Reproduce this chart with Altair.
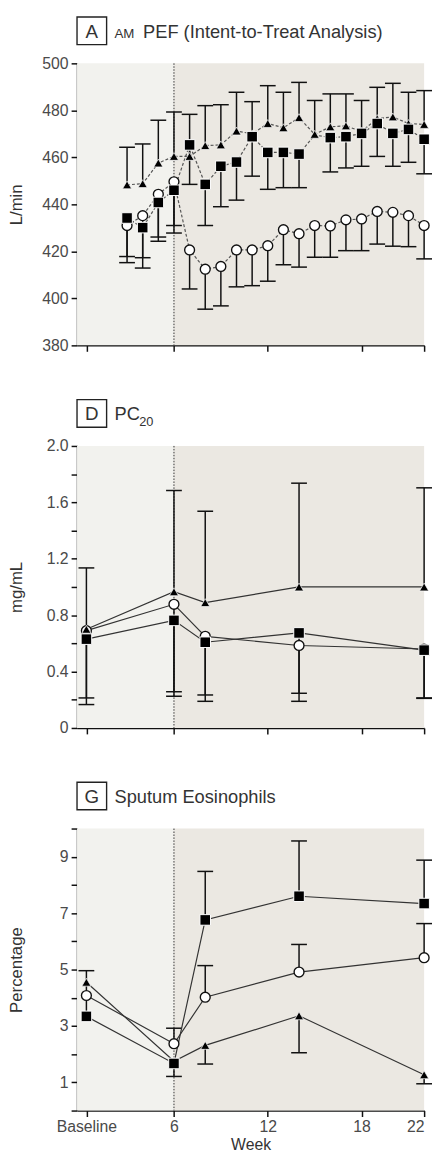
import altair as alt
import pandas as pd

FONT = "Liberation Sans"
BASELINE = 0.4
X_TICKS = [BASELINE, 6, 12, 18, 22]
X_DOMAIN = [-0.2, 22]
PHASE_START = [-0.2, 6]
PHASE_END = [6, 22]
PHASE_COLOR = ["#F2F2EE", "#EBE8E2"]

# ---- Panel A: AM PEF (L/min) ----
A_WEEKS = list(range(3, 23))
PEF_TRI = [448.3, 448.8, 457.6, 460.4, 460.4, 465.0, 465.3, 471.2, 470.0, 474.4,
           472.6, 476.9, 469.8, 473.0, 473.4, 471.0, 476.5, 477.2, 474.4, 474.0]
PEF_TRI_UP = [464.3, 465.7, 475.8, 479.3, 478.3, 482.0, 482.4, 487.7, 483.7, 490.5,
              487.7, 491.9, 484.2, 487.0, 487.0, 484.2, 489.8, 491.5, 487.7, 488.4]
PEF_SQ = [434.2, 430.1, 440.8, 446.0, 465.3, 448.5, 456.2, 458.0, 468.8, 462.1,
          462.1, 461.4, 469.5, 468.4, 468.8, 470.2, 474.4, 470.2, 471.9, 467.7]
PEF_SQ_LO = [415.2, 412.9, 424.3, 427.8, 448.5, 431.0, 439.0, 441.8, 452.0, 446.4,
             447.1, 447.1, None, 453.8, 455.5, 456.2, 460.4, 456.2, 457.9, 453.0]
PEF_CI = [431.0, 435.2, 444.3, 449.6, 420.6, 412.4, 413.6, 420.6, 420.6, 422.4,
          429.2, 427.5, 431.0, 430.8, 433.4, 433.8, 437.0, 436.6, 435.2, 431.0]
PEF_CI_LO = [417.8, 417.3, 426.1, 431.0, 404.0, 395.4, 396.8, 404.9, 405.4, 407.3,
             414.3, 413.3, 417.5, 417.5, 420.3, 420.3, 423.1, 422.2, 422.0, 416.8]
PEF_HIDDEN_SQ_WEEK = 15

# ---- Panel D: PC20 (mg/mL) ----
D_WEEKS = [BASELINE, 6, 8, 14, 22]
PC_TRI = [0.70, 0.966, 0.889, 1.0, 1.0]
PC_TRI_UP = [1.135, 1.684, 1.537, 1.736, 1.703]
PC_CI = [0.69, 0.877, 0.65, 0.585, 0.56]
PC_CI_LO = [0.213, 0.257, 0.234, 0.246, 0.213]
PC_SQ = [0.63, 0.763, 0.608, 0.674, 0.552]
PC_SQ_LO = [0.166, 0.225, 0.189, 0.189, 0.21]

# ---- Panel G: Sputum eosinophils (%) ----
G_WEEKS = [BASELINE, 6, 8, 14, 22]
EO_TRI = [4.55, 1.75, 2.31, 3.36, 1.27]
EO_TRI_LO = [None, 1.21, 1.65, 2.05, 0.95]
EO_CI = [4.08, 2.37, 4.02, 4.91, 5.42]
EO_CI_UP = [None, 2.92, 5.14, 5.89, 6.63]
EO_SQ = [3.34, 1.67, 6.76, 7.6, 7.34]
EO_SQ_UP = [4.96, None, 8.48, 9.56, 8.88]

W, H = 352, 286


def long(weeks, series):
    rows = []
    for name, (vals, errs) in series.items():
        for w, v, e in zip(weeks, vals, errs):
            rows.append({"week": w, "series": name, "value": v, "err": e})
    return pd.DataFrame(rows)


phase_df = pd.DataFrame({"start": PHASE_START, "end": PHASE_END, "color": PHASE_COLOR})
ONE = alt.Data(values=[{"k": 0}])


def panel(df, ydom, yvals, ylabel_expr, ytitle, show_x, dashed, title_layers, hide_sq=None):
    xaxis = alt.Axis(values=X_TICKS, labels=show_x,
                     labelExpr="datum.value < 1 ? 'Baseline' : datum.label",
                     labelPadding=2, titleFontSize=16,
                     title="Week" if show_x else None, titlePadding=2)
    xs = alt.Scale(domain=X_DOMAIN, nice=False, zero=False)
    ys = alt.Scale(domain=ydom, nice=False, zero=False)
    yaxis = alt.Axis(values=yvals, labelExpr=ylabel_expr, title=ytitle,
                     titleX=-61, titleY=H / 2, titleAngle=-90,
                     titleAlign="center", titleBaseline="middle")
    X = alt.X("week:Q", scale=xs, axis=xaxis)
    Y = alt.Y("value:Q", scale=ys, axis=yaxis)

    bg = alt.Chart(phase_df).mark_rect().encode(
        x=alt.X("start:Q", scale=xs, axis=xaxis), x2="end:Q",
        y=alt.value(0), y2=alt.value(H),
        color=alt.Color("color:N", scale=None, legend=None))
    vline = alt.Chart(ONE).mark_rule(color="#333", strokeWidth=1, strokeDash=[1.5, 1.5]).encode(
        x=alt.datum(6, scale=xs))
    base = alt.Chart(df)
    errs = base.transform_filter("isValid(datum.err)")
    bars = errs.mark_rule(color="#111", strokeWidth=1.5).encode(x=X, y=Y, y2="err:Q")
    caps = errs.mark_rule(color="#111", strokeWidth=1.5, xOffset=-8, x2Offset=8).encode(
        x=X, x2="week:Q", y=alt.Y("err:Q", scale=ys, axis=yaxis))
    line_kw = dict(color="#555", strokeWidth=1.2)
    if dashed:
        line_kw["strokeDash"] = [3, 2]
    else:
        line_kw["color"] = "#333"
    lines = base.mark_line(**line_kw).encode(x=X, y=Y, detail="series:N", order="week:Q")
    circ = base.transform_filter("datum.series == 'circle'").mark_point(
        shape="circle", filled=True, fill="white", stroke="#111", strokeWidth=1.4,
        size=100, opacity=1).encode(x=X, y=Y)
    tri = base.transform_filter("datum.series == 'triangle'").mark_point(
        shape="triangle-up", filled=True, fill="#000", stroke="white", strokeWidth=0.7,
        size=85, opacity=1).encode(x=X, y=Y)
    sq_src = base.transform_filter("datum.series == 'square'")
    if hide_sq is not None:
        sq_src = sq_src.transform_filter(f"datum.week != {hide_sq}")
    sq = sq_src.mark_point(shape="square", filled=True, fill="#000", stroke="white",
                           strokeWidth=1, size=115, opacity=1).encode(x=X, y=Y)
    return alt.layer(bg, vline, bars, caps, lines, circ, tri, sq, *title_layers).properties(
        width=W, height=H)


def title_box(letter):
    box = alt.Chart(ONE).mark_rect(fill="transparent", stroke="#222", strokeWidth=1.4).encode(
        x=alt.value(0), x2=alt.value(30), y=alt.value(-47), y2=alt.value(-19))
    let = alt.Chart(ONE).mark_text(text=letter, font=FONT, fontSize=19, color="#333",
                                   align="center", baseline="alphabetic").encode(
        x=alt.value(15), y=alt.value(-26))
    return [box, let]


def ttext(txt, x, size, y=-26):
    return alt.Chart(ONE).mark_text(text=txt, font=FONT, fontSize=size, color="#333",
                                    align="left", baseline="alphabetic").encode(
        x=alt.value(x), y=alt.value(y))


dfA = long(A_WEEKS, {"circle": (PEF_CI, PEF_CI_LO), "triangle": (PEF_TRI, PEF_TRI_UP),
                     "square": (PEF_SQ, PEF_SQ_LO)})
dfD = long(D_WEEKS, {"circle": (PC_CI, PC_CI_LO), "triangle": (PC_TRI, PC_TRI_UP),
                     "square": (PC_SQ, PC_SQ_LO)})
dfG = long(G_WEEKS, {"circle": (EO_CI, EO_CI_UP), "triangle": (EO_TRI, EO_TRI_LO),
                     "square": (EO_SQ, EO_SQ_UP)})

pA = panel(dfA, [380, 500], [380, 400, 420, 440, 460, 480, 500], "datum.label", "L/min",
           False, True,
           title_box("A") + [ttext("AM", 38, 13.5), ttext("PEF (Intent-to-Treat Analysis)", 67, 18.5)],
           hide_sq=PEF_HIDDEN_SQ_WEEK)
pD = panel(dfD, [0, 2], [0, 0.2, 0.4, 0.6, 0.8, 1.0, 1.2, 1.4, 1.6, 1.8, 2.0],
           "datum.value == 0 ? '0' : (round(datum.value * 10) % 4 == 0 ? format(datum.value, '.1f') : '')",
           "mg/mL", False, False,
           title_box("D") + [ttext("PC", 38, 18.5), ttext("20", 63, 13, -20)])
pG = panel(dfG, [0, 10], list(range(0, 11)),
           "datum.value % 2 == 1 ? datum.label : ''", "Percentage", True, False,
           title_box("G") + [ttext("Sputum Eosinophils", 38, 18.5)])

chart = alt.vconcat(pA, pD, pG, spacing=46).properties(
    padding={"left": 0, "top": 0, "right": 0, "bottom": 0},
    background="white",
).configure_view(stroke=None).configure_axis(
    grid=False, domainColor="#111", domainWidth=1.5, tickColor="#111", tickWidth=1.5,
    tickSize=6, labelFont=FONT, labelFontSize=16, labelColor="#4a4a4a", labelPadding=3,
    titleFont=FONT, titleFontSize=17, titleFontWeight="normal", titleColor="#333"
)

chart.save("out.html", embed_options={"renderer": "svg", "actions": False})
